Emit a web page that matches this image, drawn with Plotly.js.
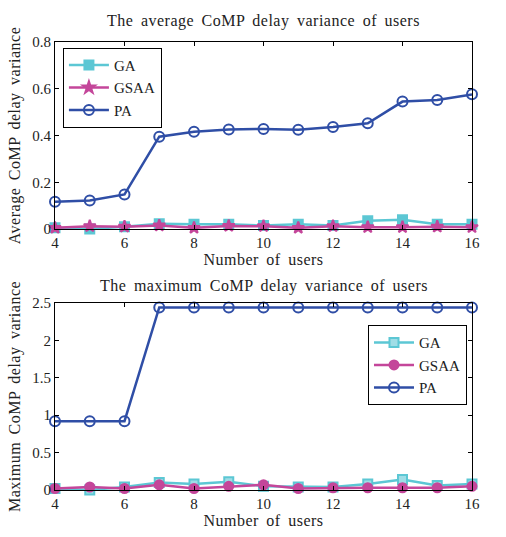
<!DOCTYPE html>
<html>
<head>
<meta charset="utf-8">
<script src="https://cdn.plot.ly/plotly-3.0.1.min.js"></script>
<style>
html,body{margin:0;padding:0;background:#fff;}
#chart .xtitle, #chart .x2title, #chart .ytitle, #chart .y2title, #chart .annotation-text {letter-spacing:0.5px; word-spacing:3px;}
</style>
</head>
<body>
<div id="chart" style="width:506px;height:537px;"></div>
<script>
const users = [4,5,6,7,8,9,10,11,12,13,14,15,16];
const xTicks = [4,6,8,10,12,14,16];
const avgGA   = [0.005,0.000,0.010,0.022,0.020,0.020,0.015,0.020,0.015,0.035,0.040,0.020,0.020];
const avgGSAA = [0.005,0.012,0.010,0.015,0.005,0.013,0.012,0.005,0.012,0.008,0.008,0.010,0.008];
const avgPA   = [0.117,0.122,0.148,0.395,0.416,0.426,0.428,0.425,0.436,0.452,0.545,0.552,0.576];
const maxGA   = [0.02,0.00,0.04,0.10,0.08,0.11,0.05,0.04,0.04,0.08,0.14,0.06,0.08];
const maxGSAA = [0.02,0.04,0.02,0.07,0.02,0.05,0.07,0.02,0.03,0.03,0.03,0.03,0.05];
const maxPA   = [0.92,0.92,0.92,2.44,2.44,2.44,2.44,2.44,2.44,2.44,2.44,2.44,2.44];

const cGA = '#5cc7d4', cGSAA = '#c4469a', cPA = '#2f4ea6';
const font = {family:'Liberation Serif, Times New Roman, serif', size:15, color:'#222'};

function tr(y, name, color, sym, xa, ya, leg, mk) {
  return {x: users, y: y, name: name, type:'scatter', mode:'lines+markers',
    xaxis: xa, yaxis: ya, legend: leg, cliponaxis:false,
    line:{color: color, width: 2.5},
    marker: Object.assign({symbol: sym, size: 9, color: color, line:{color: color, width: 2}}, mk||{})};
}
const data = [
  tr(avgGA,'GA',cGA,'square','x','y','legend'),
  tr(avgGSAA,'GSAA',cGSAA,'star','x','y','legend'),
  tr(avgPA,'PA',cPA,'circle-open','x','y','legend',{size:10}),
  tr(maxGA,'GA',cGA,'square','x2','y2','legend2',{color:'#9fdde6'}),
  tr(maxGSAA,'GSAA',cGSAA,'circle','x2','y2','legend2'),
  tr(maxPA,'PA',cPA,'circle-open','x2','y2','legend2',{size:10})
];
const axBase = {showline:true, linecolor:'#000', linewidth:1, mirror:'ticks', ticks:'inside', ticklen:4, tickcolor:'#000', showgrid:false, zeroline:false, tickfont:font};
const titleFont = {family:font.family, size:16, color:'#222'};
const layout = {
  width:506, height:537, paper_bgcolor:'#fff', plot_bgcolor:'#fff', font: font,
  margin:{l:55, r:34, t:42, b:47},
  xaxis: Object.assign({}, axBase, {range:[4,16], tickvals:xTicks, anchor:'y', domain:[0,1],
    title:{text:'Number of users', font:titleFont, standoff:0}}),
  yaxis: Object.assign({}, axBase, {range:[0,0.8], tickvals:[0,0.2,0.4,0.6,0.8], ticktext:['0','0.2','0.4','0.6','0.8'], domain:[0.5826,1], anchor:'x',
    title:{text:'Average CoMP delay variance', font:titleFont, standoff:7}}),
  xaxis2: Object.assign({}, axBase, {range:[4,16], tickvals:xTicks, anchor:'y2', domain:[0,1],
    title:{text:'Number of users', font:titleFont, standoff:0}}),
  yaxis2: Object.assign({}, axBase, {range:[0,2.5], tickvals:[0,0.5,1,1.5,2,2.5], ticktext:['0','0.5','1','1.5','2','2.5'], domain:[0,0.4174], anchor:'x2',
    title:{text:'Maximum CoMP delay variance', font:titleFont, standoff:7}}),
  legend: {x:0.019, y:0.987, xanchor:'left', yanchor:'top', bordercolor:'#000', borderwidth:1, bgcolor:'#fff', font:font, tracegroupgap:0, itemwidth:40},
  legend2: {x:0.988, y:0.368, xanchor:'right', yanchor:'top', bordercolor:'#000', borderwidth:1, bgcolor:'#fff', font:font, tracegroupgap:0, itemwidth:40},
  annotations: [
    {text:'The average CoMP delay variance of users', xref:'paper', yref:'paper', x:0.5, y:1, yshift:10, yanchor:'bottom', showarrow:false, font:titleFont},
    {text:'The maximum CoMP delay variance of users', xref:'paper', yref:'paper', x:0.5, y:0.4174, yshift:6, yanchor:'bottom', showarrow:false, font:titleFont}
  ]
};
Plotly.newPlot('chart', data, layout, {displayModeBar:false, staticPlot:true});
</script>
</body>
</html>
